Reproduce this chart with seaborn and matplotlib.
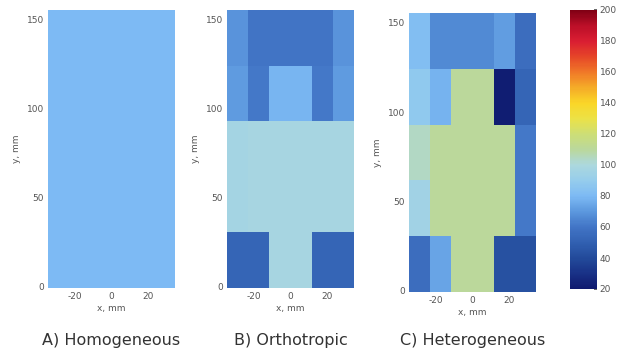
import numpy as np
import pandas as pd
import matplotlib
matplotlib.use("Agg")
import matplotlib.pyplot as plt
import seaborn as sns
from matplotlib.colors import LinearSegmentedColormap

sns.set_theme(style="white")
plt.rcParams['font.family'] = ['DejaVu Sans']

# ---- data (rows listed bottom -> top, columns left -> right) ----
x_edges = [-35, 35]          # mm
y_edges = [0, 156]           # mm
n_cols = 6
n_rows = 5

homogeneous = [
    [80, 80, 80, 80, 80, 80],
    [80, 80, 80, 80, 80, 80],
    [80, 80, 80, 80, 80, 80],
    [80, 80, 80, 80, 80, 80],
    [80, 80, 80, 80, 80, 80],
]
orthotropic = [
    [52, 52, 98, 98, 52, 52],
    [96, 98, 98, 98, 98, 98],
    [96, 98, 98, 98, 98, 98],
    [71, 61, 79, 79, 61, 71],
    [69, 60, 60, 60, 60, 69],
]
heterogeneous = [
    [56, 74, 110, 110, 43, 43],
    [95, 110, 110, 110, 110, 61],
    [104, 110, 110, 110, 110, 61],
    [88, 78, 110, 110, 22, 52],
    [82, 66, 66, 66, 72, 56],
]
panel_titles = ["A) Homogeneous", "B) Orthotropic", "C) Heterogeneous"]
x_ticks = [-20, 0, 20]
y_ticks = [0, 50, 100, 150]
cbar_ticks = [20, 40, 60, 80, 100, 120, 140, 160, 180, 200]
vmin, vmax = 20, 200

cmap_stops = [20, 30, 40, 50, 60, 70, 80, 90, 100, 110, 120, 130, 140, 150, 160, 170, 180, 190, 200]
cmap_rgb = [(15, 25, 110), (25, 50, 135), (35, 75, 155), (50, 97, 178), (66, 117, 198),
            (92, 152, 222), (125, 186, 244), (150, 205, 236), (172, 216, 222),
            (186, 216, 156), (205, 222, 118), (236, 226, 70), (250, 214, 40),
            (245, 172, 40), (240, 120, 40), (230, 70, 40), (218, 30, 50),
            (188, 15, 40), (128, 0, 20)]

cmap = LinearSegmentedColormap.from_list(
    "custom",
    [((s - vmin) / (vmax - vmin), tuple(c / 255 for c in rgb)) for s, rgb in zip(cmap_stops, cmap_rgb)])

fig = plt.figure(figsize=(6.23, 3.58), dpi=100)
W, H = 623, 358
def box(l, r, t, b):
    return [l / W, 1 - b / H, (r - l) / W, (b - t) / H]

axes = [fig.add_axes(box(48, 175, 10, 288)),
        fig.add_axes(box(227, 354, 10, 288)),
        fig.add_axes(box(409, 536, 13, 292))]
cax = fig.add_axes(box(570, 597, 10, 289))

def xpos(v):
    return (v - x_edges[0]) / (x_edges[1] - x_edges[0]) * n_cols
def ypos(v):
    return (v - y_edges[0]) / (y_edges[1] - y_edges[0]) * n_rows

tick_color = "#555555"
for i, (ax, data, title) in enumerate(zip(axes, [homogeneous, orthotropic, heterogeneous], panel_titles)):
    df = pd.DataFrame(data)
    sns.heatmap(df, ax=ax, cmap=cmap, vmin=vmin, vmax=vmax,
                cbar=(i == 2), cbar_ax=cax if i == 2 else None,
                linewidths=0)
    ax.set_ylim(0, n_rows)
    ax.set_xlim(0, n_cols)
    ax.set_xticks([xpos(v) for v in x_ticks])
    ax.set_xticklabels([str(v) for v in x_ticks], rotation=0)
    ax.set_yticks([ypos(v) for v in y_ticks])
    ax.set_yticklabels([str(v) for v in y_ticks], rotation=0)
    ax.tick_params(axis="both", length=0, labelsize=6.5, colors=tick_color, pad=3)
    ax.set_xlabel("x, mm", fontsize=6.5, color=tick_color, labelpad=2)
    ax.set_ylabel("y, mm", fontsize=6.5, color=tick_color, labelpad=4)
    for s in ax.spines.values():
        s.set_visible(False)
    cx = (ax.get_position().x0 + ax.get_position().x1) / 2
    fig.text(cx, 1 - 340 / H, title, ha="center", va="center", fontsize=11.5,
             color="#333333")

cb = axes[2].collections[0].colorbar
cb.set_ticks(cbar_ticks)
cb.set_ticklabels([str(v) for v in cbar_ticks])
cax.tick_params(labelsize=6.5, colors=tick_color, length=2, direction="in", pad=2)
cb.outline.set_visible(False)

fig.savefig("out.png", dpi=100, facecolor="white")
